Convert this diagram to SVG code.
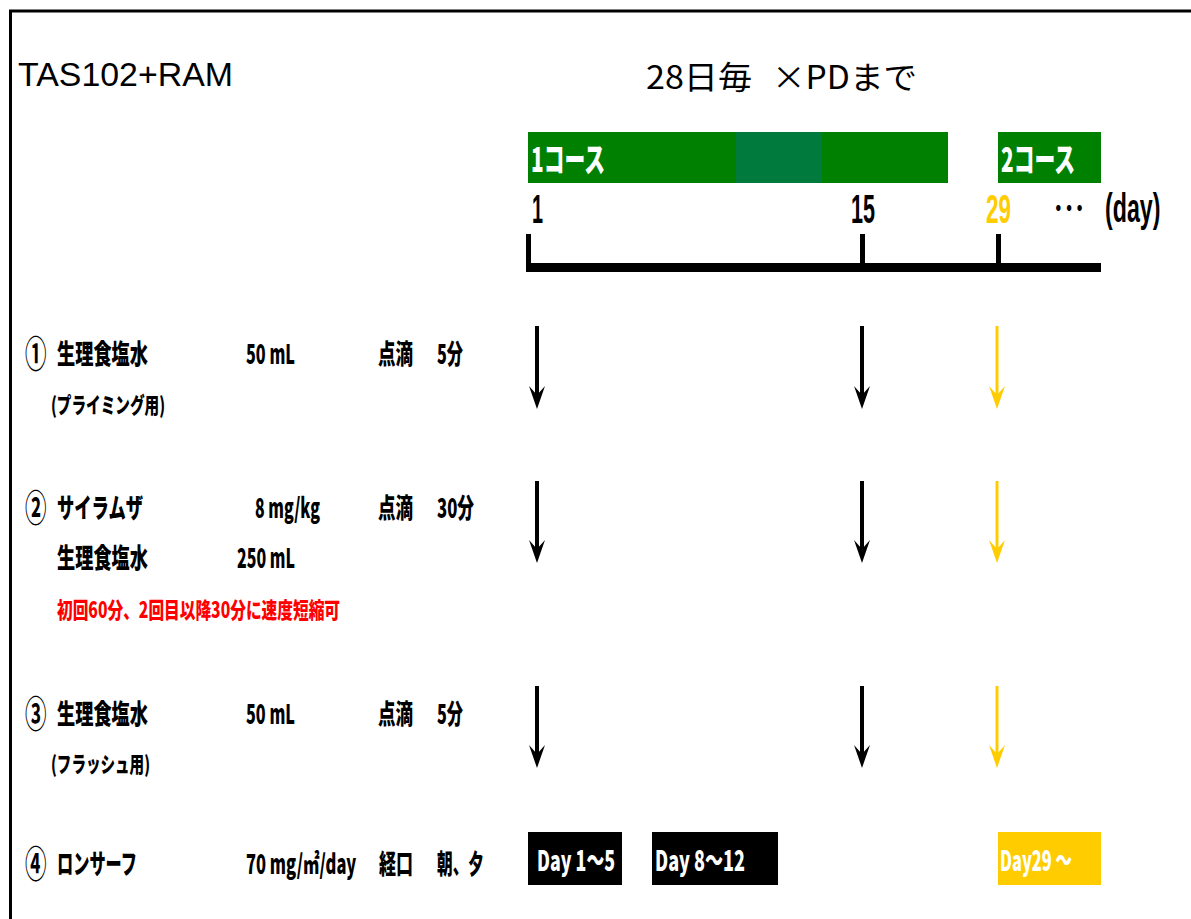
<svg xmlns="http://www.w3.org/2000/svg" width="1191" height="919" viewBox="0 0 1191 919">
<style>
.t{font-family:"Noto Sans CJK JP","Liberation Sans",sans-serif;font-weight:900;fill:#000;dominant-baseline:central}
.b{font-size:27px}
.c{font-size:37px;font-weight:700}
.s{font-size:22px}
.ttl{font-family:"Liberation Sans","Noto Sans CJK JP",sans-serif;font-size:33px;font-weight:400;dominant-baseline:central}
.jt{font-family:"Noto Sans CJK JP",sans-serif;font-size:32px;font-weight:400;dominant-baseline:central}
.num{font-family:"Liberation Sans","Noto Sans CJK JP",sans-serif;font-size:40px;font-weight:700;dominant-baseline:central}
.w{fill:#fff}
.y{fill:#FFCC00}
.red{fill:#FF0000}
.ab{stroke:#000;stroke-width:4}
.ay{stroke:#FFCC00;stroke-width:3}
.hb{fill:#000}
.hy{fill:#FFCC00}
</style>
<rect width="1191" height="919" fill="#fff"/>
<rect x="10.5" y="11" width="1200" height="1000" fill="none" stroke="#000" stroke-width="3"/>

<g id="title">
<text class="ttl" x="18" y="74" textLength="215" lengthAdjust="spacingAndGlyphs">TAS102+RAM</text>
<text class="jt" x="646" y="75" textLength="106" lengthAdjust="spacingAndGlyphs">28日毎</text>
<text class="jt" x="772" y="75" textLength="145" lengthAdjust="spacingAndGlyphs">×PDまで</text>
</g>

<g id="course1">
<rect x="528" y="132" width="420" height="51" fill="#008000"/>
<rect x="736" y="132" width="86" height="51" fill="#007A3D"/>
<text class="t w" x="531" y="157" font-size="34" font-weight="700" textLength="74" lengthAdjust="spacingAndGlyphs">1コース</text>
</g>
<g id="course2">
<rect x="998" y="132" width="103" height="51" fill="#008000"/>
<text class="t w" x="1001" y="157" font-size="34" font-weight="700" textLength="74" lengthAdjust="spacingAndGlyphs">2コース</text>
</g>

<g id="timeline">
<rect x="526" y="263" width="575" height="9" fill="#000"/>
<rect x="526" y="234" width="5" height="30" fill="#000"/>
<rect x="860" y="234" width="5" height="30" fill="#000"/>
<rect x="996" y="234" width="5" height="30" fill="#000"/>
<text class="num" x="532" y="209" textLength="11" lengthAdjust="spacingAndGlyphs">1</text>
<text class="num" x="851" y="209" textLength="24" lengthAdjust="spacingAndGlyphs">15</text>
<text class="num y" x="986" y="209" textLength="25" lengthAdjust="spacingAndGlyphs">29</text>
<text class="t" x="1053" y="207" font-size="28" textLength="32" lengthAdjust="spacingAndGlyphs">･･･</text>
<text class="num" font-size="38" transform="translate(1105,208) scale(0.58,1)">(day)</text>
</g>

<g id="row1">
<text class="t c" transform="translate(25,352) scale(0.58,1)">①</text>
<text class="t b" x="57" y="352" textLength="91" lengthAdjust="spacingAndGlyphs">生理食塩水</text>
<text class="t b" x="246" y="352" textLength="49" lengthAdjust="spacingAndGlyphs">50 mL</text>
<text class="t b" x="378" y="352" textLength="35" lengthAdjust="spacingAndGlyphs">点滴</text>
<text class="t b" x="437" y="352" textLength="26" lengthAdjust="spacingAndGlyphs">5分</text>
<text class="t s" x="51" y="403" textLength="114" lengthAdjust="spacingAndGlyphs">(プライミング用)</text>
</g>

<g id="row2">
<text class="t c" transform="translate(25,506) scale(0.58,1)">②</text>
<text class="t b" x="57" y="506" textLength="86" lengthAdjust="spacingAndGlyphs">サイラムザ</text>
<text class="t b" x="255" y="506" textLength="65" lengthAdjust="spacingAndGlyphs">8 mg/kg</text>
<text class="t b" x="378" y="506" textLength="35" lengthAdjust="spacingAndGlyphs">点滴</text>
<text class="t b" x="437" y="506" textLength="37" lengthAdjust="spacingAndGlyphs">30分</text>
<text class="t b" x="57" y="556" textLength="91" lengthAdjust="spacingAndGlyphs">生理食塩水</text>
<text class="t b" x="237" y="556" textLength="58" lengthAdjust="spacingAndGlyphs">250 mL</text>
<text class="t s red" x="57" y="608" textLength="283" lengthAdjust="spacingAndGlyphs">初回60分、2回目以降30分に速度短縮可</text>
</g>

<g id="row3">
<text class="t c" transform="translate(25,712) scale(0.58,1)">③</text>
<text class="t b" x="57" y="712" textLength="91" lengthAdjust="spacingAndGlyphs">生理食塩水</text>
<text class="t b" x="246" y="712" textLength="49" lengthAdjust="spacingAndGlyphs">50 mL</text>
<text class="t b" x="378" y="712" textLength="35" lengthAdjust="spacingAndGlyphs">点滴</text>
<text class="t b" x="437" y="712" textLength="26" lengthAdjust="spacingAndGlyphs">5分</text>
<text class="t s" x="51" y="762" textLength="99" lengthAdjust="spacingAndGlyphs">(フラッシュ用)</text>
</g>

<g id="row4">
<text class="t c" transform="translate(25,862) scale(0.58,1)">④</text>
<text class="t b" x="57" y="862" textLength="80" lengthAdjust="spacingAndGlyphs">ロンサーフ</text>
<text class="t b" transform="translate(246,862) scale(0.61,1)">70 mg/㎡/day</text>
<text class="t b" x="379" y="862" textLength="34" lengthAdjust="spacingAndGlyphs">経口</text>
<text class="t b" x="437" y="862" textLength="47" lengthAdjust="spacingAndGlyphs">朝、夕</text>
</g>

<g id="day1-5">
<rect x="528" y="832" width="94" height="53" fill="#000"/>
<text class="t w" x="537" y="859" font-size="28" font-weight="700" textLength="78" lengthAdjust="spacingAndGlyphs">Day 1～5</text>
</g>
<g id="day8-12">
<rect x="652" y="832" width="126" height="53" fill="#000"/>
<text class="t w" x="655" y="859" font-size="28" font-weight="700" textLength="90" lengthAdjust="spacingAndGlyphs">Day 8～12</text>
</g>
<g id="day29">
<rect x="998" y="832" width="103" height="53" fill="#FFCC00"/>
<text class="t w" x="1000" y="859" font-size="28" font-weight="700" textLength="72" lengthAdjust="spacingAndGlyphs">Day29 ～</text>
</g>

<g id="connectors">
<line class="ab" x1="537" y1="326" x2="537" y2="398"/>
<polygon class="hb" points="529,386 537,409 545,386 537,395"/>
<line class="ab" x1="862" y1="326" x2="862" y2="398"/>
<polygon class="hb" points="854,386 862,409 870,386 862,395"/>
<line class="ay" x1="997" y1="326" x2="997" y2="398"/>
<polygon class="hy" points="989,386 997,409 1005,386 997,395"/>

<line class="ab" x1="537" y1="481" x2="537" y2="552"/>
<polygon class="hb" points="529,540 537,563 545,540 537,549"/>
<line class="ab" x1="862" y1="481" x2="862" y2="552"/>
<polygon class="hb" points="854,540 862,563 870,540 862,549"/>
<line class="ay" x1="997" y1="481" x2="997" y2="552"/>
<polygon class="hy" points="989,540 997,563 1005,540 997,549"/>

<line class="ab" x1="537" y1="686" x2="537" y2="757"/>
<polygon class="hb" points="529,745 537,768 545,745 537,754"/>
<line class="ab" x1="862" y1="686" x2="862" y2="757"/>
<polygon class="hb" points="854,745 862,768 870,745 862,754"/>
<line class="ay" x1="997" y1="686" x2="997" y2="757"/>
<polygon class="hy" points="989,745 997,768 1005,745 997,754"/>
</g>
</svg>
